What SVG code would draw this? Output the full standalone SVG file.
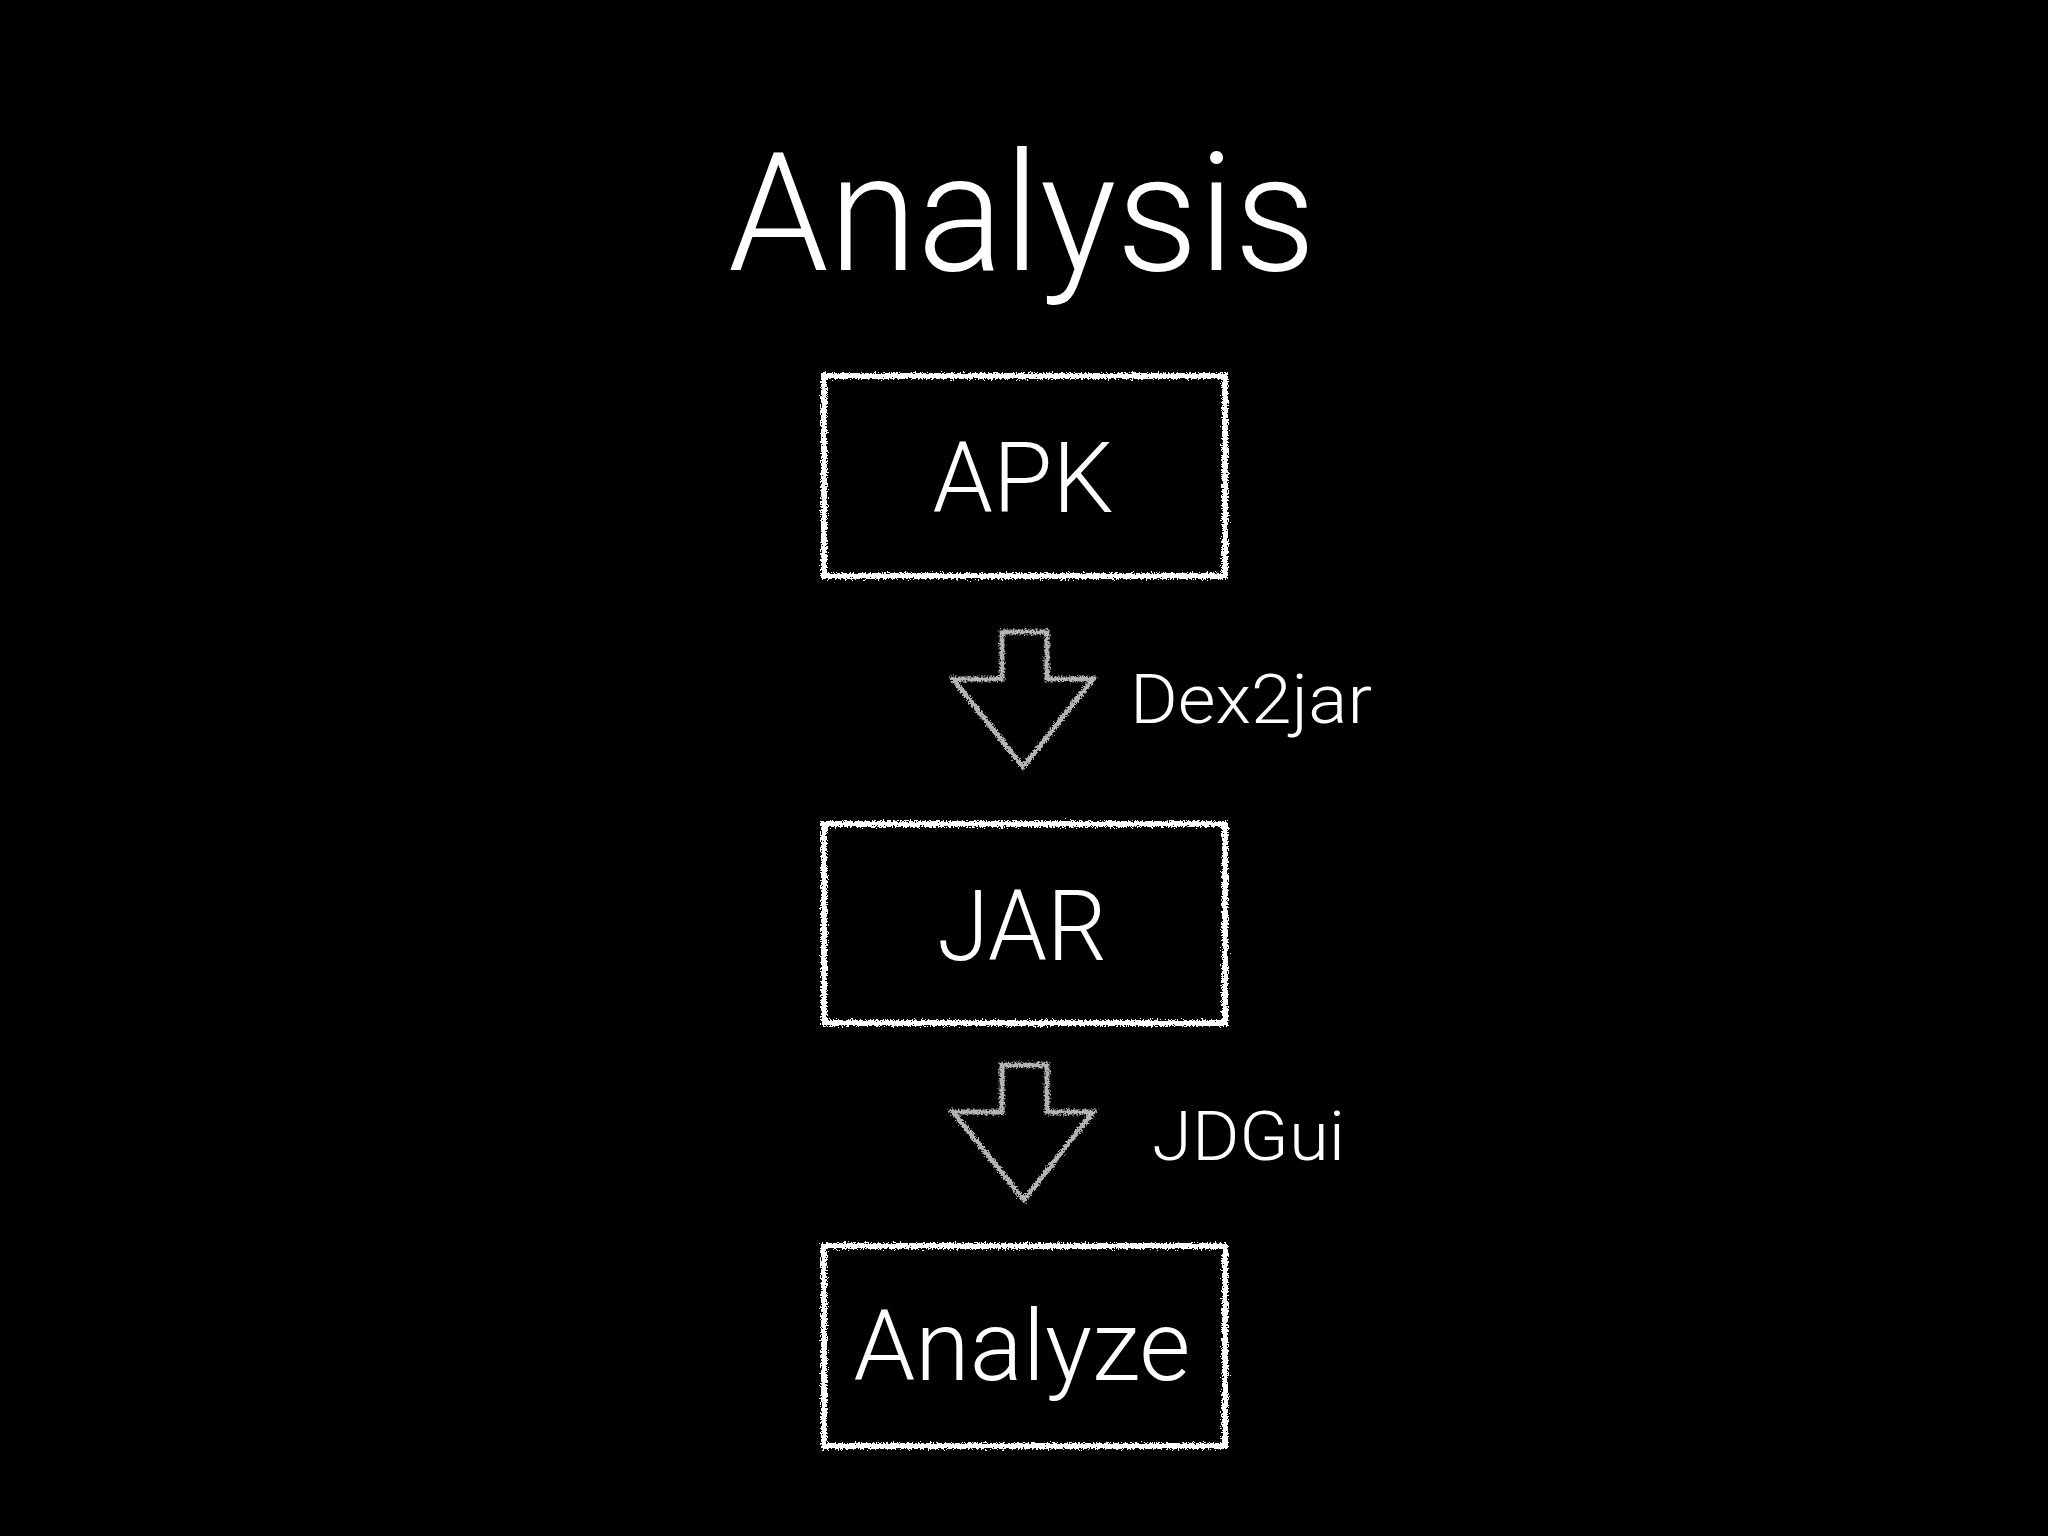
<svg xmlns="http://www.w3.org/2000/svg" width="2048" height="1536" viewBox="0 0 2048 1536">
<defs>
<filter id="rough" x="-5%" y="-5%" width="110%" height="110%">
<feTurbulence type="fractalNoise" baseFrequency="0.6" numOctaves="2" seed="3" result="n"/>
<feDisplacementMap in="SourceGraphic" in2="n" scale="7" xChannelSelector="R" yChannelSelector="G"/>
</filter>
</defs>
<style>
.bg{fill:#000}
.box{fill:none;stroke:#fff;stroke-width:6;filter:url(#rough)}
.arrow{fill:none;stroke:#b4b4b4;stroke-width:5;stroke-linejoin:miter;filter:url(#rough)}
.t{fill:#fff;font-family:Roboto,"Liberation Sans",sans-serif;font-weight:300;text-anchor:middle}
.lbl{fill:#fff;font-family:Roboto,"Liberation Sans",sans-serif;font-weight:300;font-size:68px}
</style>
<rect class="bg" x="0" y="0" width="2048" height="1536"/>
<text id="title" class="t" x="1022" y="270" font-size="165" textLength="588" lengthAdjust="spacingAndGlyphs">Analysis</text>
<g id="node-apk">
<rect class="box" x="824" y="376" width="401" height="200"/>
<text class="t" x="1023" y="512" font-size="98" textLength="181" lengthAdjust="spacingAndGlyphs">APK</text>
</g>
<g id="node-jar">
<rect class="box" x="824" y="824" width="401" height="199"/>
<text class="t" x="1022" y="960" font-size="98" textLength="170" lengthAdjust="spacingAndGlyphs">JAR</text>
</g>
<g id="node-analyze">
<rect class="box" x="824" y="1246" width="401" height="200"/>
<text class="t" x="1022" y="1380" font-size="98" textLength="337" lengthAdjust="spacingAndGlyphs">Analyze</text>
</g>
<g id="connectors">
<path class="arrow" d="M1002 632 H1047 V679 H1093 L1023 767 L953 679 H1002 Z"/>
<text class="lbl" x="1130" y="723" textLength="242" lengthAdjust="spacingAndGlyphs">Dex2jar</text>
<path class="arrow" d="M1002 1065 H1047 V1112 H1093 L1024 1200 L953 1112 H1002 Z"/>
<text class="lbl" x="1152" y="1160" textLength="193" lengthAdjust="spacingAndGlyphs">JDGui</text>
</g>
</svg>
